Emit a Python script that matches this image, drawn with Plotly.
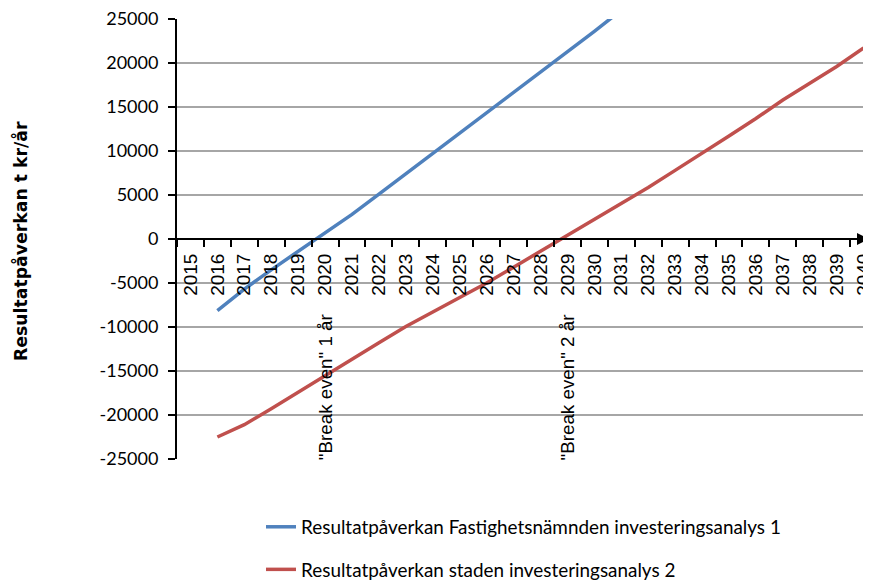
import plotly.graph_objects as go

categories = ["2015", "2016", "2017", "2018", "2019", "2020", "2021", "2022", "2023",
              "2024", "2025", "2026", "2027", "2028", "2029", "2030", "2031", "2032",
              "2033", "2034", "2035", "2036", "2037", "2038", "2039", "2040"]

blue_years = ["2016", "2017", "2018", "2019", "2020", "2021", "2022", "2023",
              "2024", "2025", "2026", "2027", "2028", "2029", "2030", "2031"]
blue_values = [-8150, -5700, -3500, -1400, 650, 2800, 5100, 7400,
               9700, 12000, 14300, 16600, 18900, 21200, 23600, 26000]

red_years = ["2016", "2017", "2018", "2019", "2020", "2021", "2022", "2023",
             "2024", "2025", "2026", "2027", "2028", "2029", "2030", "2031",
             "2032", "2033", "2034", "2035", "2036", "2037", "2038", "2039", "2040"]
red_values = [-22500, -21100, -19300, -17400, -15600, -13700, -11800, -9950,
              -8300, -6650, -5000, -3200, -1400, 400, 2200, 4000,
              5850, 7800, 9700, 11700, 13700, 15800, 17700, 19600, 21700]

y_tick_values = [-25000, -20000, -15000, -10000, -5000, 0, 5000, 10000, 15000, 20000, 25000]
y_tick_labels = ["-25000", "-20000", "-15000", "-10000", "-5000", "0",
                 "5000", "10000", "15000", "20000", "25000"]

blue_name = "Resultatpåverkan Fastighetsnämnden investeringsanalys 1"
red_name = "Resultatpåverkan staden investeringsanalys 2"
y_title = "Resultatpåverkan t kr/år"
break_even_labels = [("2020", "\"Break even\" 1 år"), ("2029", "\"Break even\" 2 år")]

# page has an 8px body margin: figure coordinates = page coordinates - 8
OFF = 8
W, H = 871 - OFF, 581 - OFF
L, R, T, B = 177 - OFF, 2, 19 - OFF, 122
PW, PH = W - L - R, H - T - B
X_END = 25.2

fig = go.Figure()
fig.add_trace(go.Scatter(x=blue_years, y=blue_values, mode="lines", name=blue_name,
                         line=dict(color="#4F81BD", width=3.5), legendgroup="a"))
fig.add_trace(go.Scatter(x=red_years, y=red_values, mode="lines", name=red_name,
                         line=dict(color="#C0504D", width=3.5), legendgroup="b"))

annotations = []
for cat, txt in break_even_labels:
    annotations.append(dict(x=categories.index(cat), y=-8300, xref="x", yref="y", text=txt,
                            showarrow=False, textangle=-90, xanchor="center", yanchor="top",
                            font=dict(family="Liberation Sans", size=18.8, color="#000")))
annotations.append(dict(x=(20 - OFF - L) / PW, y=(T + PH / 2 - (241 - OFF)) / PH + 0.5,
                        xref="paper", yref="paper",
                        text="<b>" + y_title + "</b>", showarrow=False, textangle=-90,
                        xanchor="center", yanchor="middle",
                        font=dict(family="DejaVu Sans", size=17.3, color="#000")))
annotations.append(dict(x=X_END, y=0, xref="x", yref="y", ax=-12, ay=0, axref="pixel", ayref="pixel",
                        text="", showarrow=True, arrowhead=2, arrowsize=1.2, arrowwidth=2,
                        arrowcolor="#000"))

fig.update_layout(
    width=W, height=H,
    margin=dict(l=L, r=R, t=T, b=B, autoexpand=False),
    paper_bgcolor="white", plot_bgcolor="white",
    showlegend=True,
    legend=dict(x=(261 - OFF - L) / PW, y=(T + PH - (508 - OFF)) / PH, xanchor="left", yanchor="top",
                orientation="v", tracegroupgap=15,
                font=dict(family="Lato", size=18.9, color="#000"), bgcolor="rgba(0,0,0,0)"),
    annotations=annotations,
    xaxis=dict(type="category", categoryorder="array", categoryarray=categories,
               range=[-0.5, X_END], anchor="free", position=0.5, automargin=False,
               showline=True, linecolor="#000", linewidth=2,
               ticks="outside", ticklen=7, tickwidth=2, tickcolor="#000",
               tickson="boundaries", tickangle=-90, showgrid=False, zeroline=False,
               ticklabelstandoff=6, ticklabeloverflow="allow",
               tickfont=dict(family="Liberation Sans", size=19, color="#000")),
    yaxis=dict(range=[-25000, 25000], tickmode="array", tickvals=y_tick_values,
               ticktext=y_tick_labels, automargin=False, ticklabeloverflow="allow",
               showline=True, linecolor="#000", linewidth=2,
               ticks="outside", ticklen=7, tickwidth=2, tickcolor="#000",
               showgrid=True, gridcolor="#A6A6A6", gridwidth=1.5, zeroline=False,
               ticklabelstandoff=6,
               tickfont=dict(family="Lato", size=18, color="#000")),
)

fig.write_html("out.html")
